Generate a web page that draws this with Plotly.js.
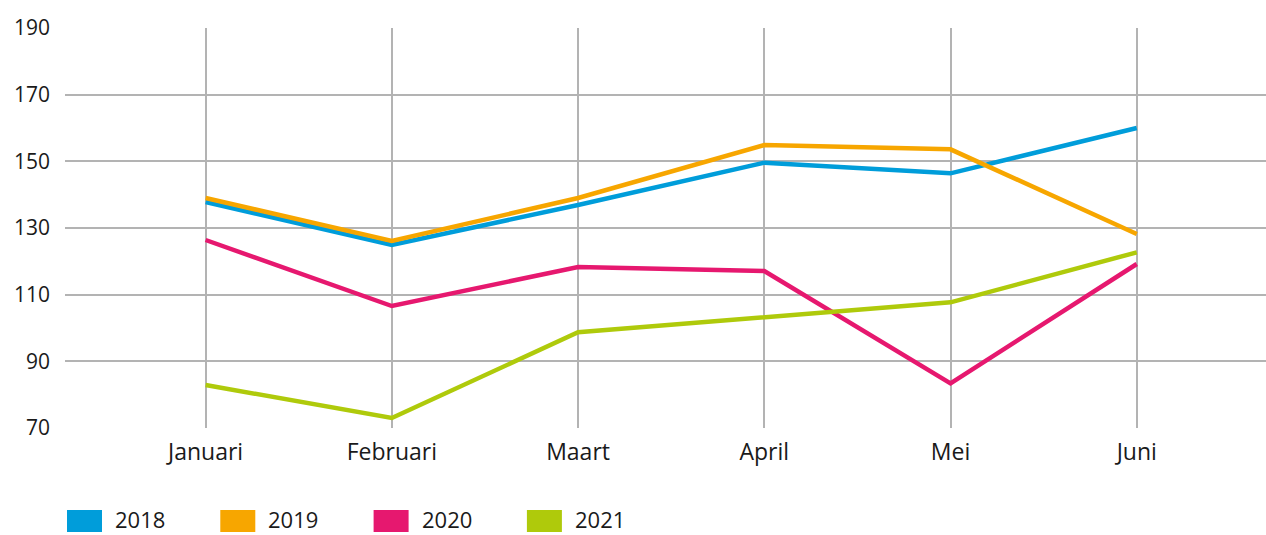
<!DOCTYPE html>
<html>
<head>
<meta charset="utf-8">
<script src="https://cdn.plot.ly/plotly-3.0.1.min.js"></script>
<style>
html,body{margin:0;padding:0;background:#fff;}
#chart{width:1266px;height:535px;}
</style>
</head>
<body>
<div id="chart"></div>
<script>
const months = ["Januari", "Februari", "Maart", "April", "Mei", "Juni"];
const seriesNames = ["2018", "2019", "2020", "2021"];
const v2018 = [137.8, 124.9, 136.9, 149.6, 146.4, 160.0];
const v2019 = [139.0, 126.1, 139.0, 154.9, 153.6, 128.2];
const v2020 = [126.4, 106.6, 118.3, 117.1, 83.4, 119.2];
const v2021 = [82.9, 73.0, 98.7, 103.3, 107.7, 122.7];
const yTicks = [70, 90, 110, 130, 150, 170, 190];
const colors = ["#009dda", "#f7a600", "#e6186f", "#afca0b"];

const allValues = [v2018, v2019, v2020, v2021];
const traces = allValues.map((vals, i) => ({
  type: "scatter",
  mode: "lines",
  x: months,
  y: vals,
  name: seriesNames[i],
  line: {color: colors[i], width: 4.5},
  showlegend: false,
  hoverinfo: "x+y+name"
}));

const W = 1266, H = 535, mL = 65, mR = 0, mT = 28, mB = 107;
const pw = W - mL - mR, ph = H - mT - mB;
const px = x => (x - mL) / pw;
const py = y => (H - mB - y) / ph;

const shapes = [];
const annotations = [];
seriesNames.forEach((n, i) => {
  const x0 = 67 + i * 153.3;
  shapes.push({
    type: "rect", xref: "paper", yref: "paper",
    x0: px(x0), x1: px(x0 + 35), y0: py(532), y1: py(510),
    fillcolor: colors[i], line: {width: 0}
  });
  annotations.push({
    xref: "paper", yref: "paper", x: px(x0 + 46), y: py(519),
    xanchor: "left", yanchor: "middle", showarrow: false,
    text: n, font: {family: "Open Sans, sans-serif", size: 22, color: "#1a1a1a"}
  });
});

const layout = {
  width: W, height: H,
  margin: {l: mL, r: mR, t: mT, b: mB, pad: 0},
  paper_bgcolor: "#fff", plot_bgcolor: "#fff",
  font: {family: "Open Sans, sans-serif", color: "#1a1a1a"},
  xaxis: {
    type: "category",
    range: [-0.755, 5.694],
    showgrid: true, gridcolor: "#b3b3b3", gridwidth: 1.5,
    zeroline: false, showline: false, ticks: "",
    tickfont: {size: 23, color: "#1a1a1a"},
    ticklabelstandoff: 8,
    fixedrange: true
  },
  yaxis: {
    range: [70, 190],
    tickvals: yTicks,
    ticktext: yTicks.map(String),
    showgrid: true, gridcolor: "#b3b3b3", gridwidth: 1.5,
    zeroline: false, showline: false, ticks: "",
    tickfont: {size: 21, color: "#1a1a1a"},
    ticklabelstandoff: 14,
    fixedrange: true
  },
  shapes: shapes,
  annotations: annotations,
  showlegend: false
};

Plotly.newPlot("chart", traces, layout, {displayModeBar: false, staticPlot: false});
</script>
</body>
</html>
